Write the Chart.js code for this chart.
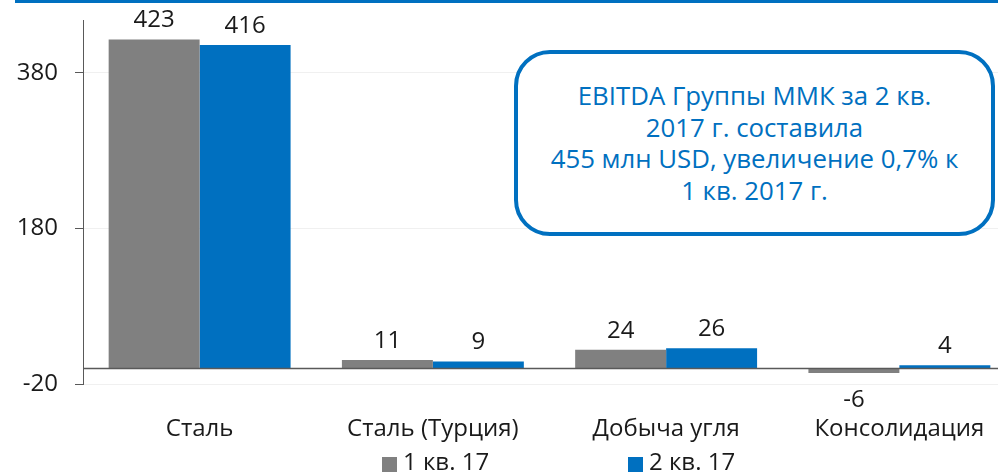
<!DOCTYPE html>
<html><head><meta charset="utf-8">
<script src="https://cdn.jsdelivr.net/npm/chart.js@4.4.0/dist/chart.umd.min.js"></script>
<style>
html,body{margin:0;padding:0;background:#fff;overflow:hidden;width:998px;height:473px;position:relative;}
#wrap{position:absolute;left:0;top:0;width:1016px;height:473px;}
#topline{position:absolute;left:15px;top:0;width:983px;height:3px;background:#0070c0;}
#note{position:absolute;left:514px;top:50px;width:481px;height:186px;box-sizing:border-box;border:4px solid #0070c0;border-radius:36px;background:#fff;color:#0070c0;font-family:'Open Sans';font-size:25.8px;text-align:center;line-height:31.5px;display:flex;align-items:center;justify-content:center;}
.lg{position:absolute;top:449px;font-family:'Open Sans';font-size:24px;line-height:24px;color:#1a1a1a;white-space:nowrap;}
.sw{position:absolute;top:457px;width:15px;height:15px;}
</style></head>
<body>
<div id="wrap"><canvas id="c" width="1016" height="473"></canvas></div>
<div id="topline"></div>
<div id="note"><div>EBITDA Группы ММК за 2 кв.<br>2017 г. составила<br>455 млн USD, увеличение 0,7% к<br>1 кв. 2017 г.</div></div>
<div id="legend"></div>
<script>
const categories = ['Сталь', 'Сталь (Турция)', 'Добыча угля', 'Консолидация'];
const q1 = [423, 11, 24, -6];
const q2 = [416, 9, 26, 4];
const seriesNames = ['1 кв. 17', '2 кв. 17'];
const seriesColors = ['#808080', '#0070c0'];
const yTicks = [-20, 180, 380];

// HTML legend
const lgPos = [382, 628];
const lg = document.getElementById('legend');
seriesNames.forEach((n, i) => {
  const s = document.createElement('div'); s.className = 'sw';
  s.style.left = lgPos[i] + 'px'; s.style.background = seriesColors[i];
  const t = document.createElement('div'); t.className = 'lg';
  t.style.left = (lgPos[i] + 21) + 'px'; t.textContent = n;
  lg.appendChild(s); lg.appendChild(t);
});

const zeroLine = {
  id: 'zeroLine',
  afterDatasetsDraw(chart) {
    const {ctx, chartArea, scales} = chart;
    const y = Math.round(scales.y.getPixelForValue(0)) + 0.5;
    ctx.save();
    ctx.strokeStyle = '#595959'; ctx.lineWidth = 1.5;
    ctx.beginPath(); ctx.moveTo(chartArea.left, y); ctx.lineTo(chartArea.right, y); ctx.stroke();
    ctx.restore();
  }
};
const dataLabels = {
  id: 'dataLabels',
  afterDatasetsDraw(chart) {
    const ctx = chart.ctx;
    ctx.save();
    ctx.font = '24px "Open Sans"';
    ctx.fillStyle = '#1a1a1a';
    ctx.textAlign = 'center';
    ctx.textBaseline = 'alphabetic';
    chart.data.datasets.forEach((ds, di) => {
      chart.getDatasetMeta(di).data.forEach((el, i) => {
        const v = ds.data[i];
        if (v >= 0) ctx.fillText(String(v), el.x, el.y - 12);
        else ctx.fillText(String(v), el.x, el.y + 34);
      });
    });
    ctx.restore();
  }
};

new Chart(document.getElementById('c'), {
  type: 'bar',
  data: {
    labels: categories,
    datasets: [
      {label: seriesNames[0], data: q1, backgroundColor: seriesColors[0], borderWidth: 0, barPercentage: 1, categoryPercentage: 0.78},
      {label: seriesNames[1], data: q2, backgroundColor: seriesColors[1], borderWidth: 0, barPercentage: 1, categoryPercentage: 0.78}
    ]
  },
  options: {
    responsive: false,
    animation: false,
    layout: {padding: {top: 20, left: 0, right: 0, bottom: 0}},
    plugins: {legend: {display: false}, tooltip: {enabled: false}},
    scales: {
      x: {
        grid: {display: false, drawTicks: false},
        border: {display: false},
        ticks: {font: {family: 'Open Sans', size: 24}, color: '#1a1a1a', padding: 31, maxRotation: 0, autoSkip: false},
        afterFit(s) { s.height = 89; s.paddingLeft = 0; s.paddingRight = 0; }
      },
      y: {
        min: -20, max: 448,
        afterBuildTicks(s) { s.ticks = yTicks.map(v => ({value: v})); },
        grid: {color: '#f0f0f0', tickColor: '#595959', tickLength: 8, lineWidth: 1},
        border: {color: '#595959', width: 1},
        ticks: {font: {family: 'Open Sans', size: 24}, color: '#1a1a1a', padding: 17},
        afterFit(s) { s.width = 83; s.paddingTop = 0; s.paddingBottom = 0; }
      }
    }
  },
  plugins: [zeroLine, dataLabels]
});
</script>
</body></html>
